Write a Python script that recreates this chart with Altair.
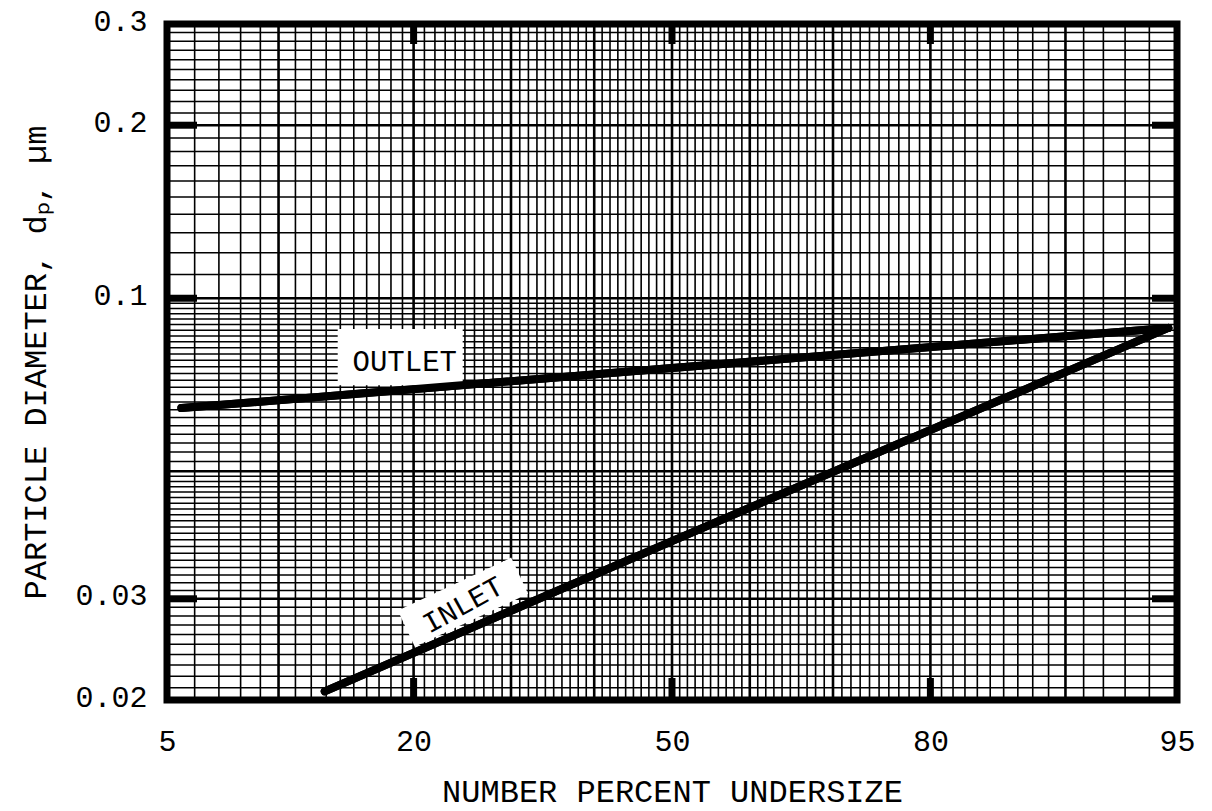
import altair as alt
import pandas as pd
from statistics import NormalDist

nd = NormalDist()

# ---- data ----
outlet_pct = [5.5, 50.0, 94.7]
outlet_dp = [0.0644, 0.0756, 0.0888]
inlet_pct = [12.9, 50.0, 94.7]
inlet_dp = [0.0207, 0.0378, 0.0888]

x_tick_pct = [5, 20, 50, 80, 95]
y_tick_dp = [0.02, 0.03, 0.1, 0.2, 0.3]
heavy_pct = [20, 50, 80]
heavy_dp = [0.03, 0.1, 0.2]

grid_pct_minor = [p for p in range(6, 95) if p % 10 != 0]
grid_pct_major = [10, 20, 30, 40, 50, 60, 70, 80, 90]
grid_dp_minor = (
    [round(0.020 + 0.001 * i, 3) for i in range(1, 30) if i != 10]
    + [round(0.050 + 0.002 * i, 3) for i in range(1, 25)]
    + [round(0.10 + 0.01 * i, 2) for i in range(1, 20) if i != 10]
)
grid_dp_major = [0.03, 0.05, 0.1, 0.2]

label_text = ["OUTLET", "INLET"]
label_pct = [19.2, 24.8]
label_dp = [0.0774, 0.02925]
box_pct = [18.8, 24.8]
box_dp = [0.0790, 0.0296]

FONT = "Liberation Mono"
Z = "quantileNormal(datum.pct / 100)"

xs = alt.Scale(domain=[nd.inv_cdf(0.05), nd.inv_cdf(0.95)], nice=False, zero=False)
ys = alt.Scale(type="log", domain=[0.02, 0.3], nice=False)

x_axis = alt.Axis(
    values=[nd.inv_cdf(p / 100) for p in x_tick_pct],
    labelExpr="format(cumulativeNormal(datum.value) * 100, '.0f')",
    title="NUMBER PERCENT UNDERSIZE",
    grid=False, domain=False, ticks=False, tickSize=0,
    labelFont=FONT, labelFontSize=30, labelColor="black", labelPadding=26,
    labelFlush=False, labelOverlap=False,
    titleFont=FONT, titleFontSize=32, titleFontWeight="normal", titleColor="black",
    titlePadding=20,
)
y_axis = alt.Axis(
    values=y_tick_dp, format="~g",
    title="PARTICLE DIAMETER, dₚ, µm",
    grid=False, domain=False, ticks=False, tickSize=0,
    labelFont=FONT, labelFontSize=30, labelColor="black", labelPadding=20,
    labelOverlap=False, labelOffset=-3,
    titleFont=FONT, titleFontSize=32, titleFontWeight="normal", titleColor="black",
    titlePadding=22,
)


def xenc():
    return alt.X("z:Q", scale=xs, axis=x_axis)


def yenc():
    return alt.Y("dp:Q", scale=ys, axis=y_axis)


def pct_chart(values):
    return alt.Chart(pd.DataFrame({"pct": values})).transform_calculate(z=Z)


def dp_chart(values):
    return alt.Chart(pd.DataFrame({"dp": values}))


vgrid_minor = pct_chart(grid_pct_minor).mark_rule(color="black", strokeWidth=1.6).encode(x=xenc())
vgrid_major = pct_chart(grid_pct_major).mark_rule(color="black", strokeWidth=2.6).encode(x=xenc())
hgrid_minor = dp_chart(grid_dp_minor).mark_rule(color="black", strokeWidth=1.5).encode(y=yenc())
hgrid_major = dp_chart(grid_dp_major).mark_rule(color="black", strokeWidth=2.6).encode(y=yenc())

tick_top = pct_chart(heavy_pct).mark_rule(color="black", strokeWidth=7).encode(
    x=xenc(), y=alt.value(0), y2=alt.value(20))
tick_bottom = pct_chart(heavy_pct).mark_rule(color="black", strokeWidth=7).encode(
    x=xenc(), y=alt.value(654), y2=alt.value(676))
tick_left = dp_chart(heavy_dp).mark_rule(color="black", strokeWidth=7).encode(
    y=yenc(), x=alt.value(0), x2=alt.value(30))
tick_right = dp_chart(heavy_dp).mark_rule(color="black", strokeWidth=7).encode(
    y=yenc(), x=alt.value(985), x2=alt.value(1010))

boxes_df = pd.DataFrame({"pct": box_pct, "dp": box_dp})
box_outlet = alt.Chart(boxes_df.iloc[[0]]).transform_calculate(z=Z).mark_point(
    shape="M-1,-0.45L1,-0.45L1,0.45L-1,0.45Z", filled=True, color="white",
    opacity=1, size=15625, strokeWidth=0,
).encode(x=xenc(), y=yenc())
box_inlet = alt.Chart(boxes_df.iloc[[1]]).transform_calculate(z=Z).mark_point(
    shape="M-1,-0.32L1,-0.32L1,0.32L-1,0.32Z", filled=True, color="white",
    opacity=1, size=15625, strokeWidth=0, angle=335,
).encode(x=xenc(), y=yenc())

lines_df = pd.DataFrame({
    "pct": outlet_pct + inlet_pct,
    "dp": outlet_dp + inlet_dp,
    "series": ["OUTLET"] * len(outlet_pct) + ["INLET"] * len(inlet_pct),
})
lines = alt.Chart(lines_df).transform_calculate(z=Z).mark_line(
    color="black", strokeWidth=8, strokeCap="round"
).encode(x=xenc(), y=yenc(), detail="series:N")

labels_df = pd.DataFrame({"pct": label_pct, "dp": label_dp, "label": label_text})
text_outlet = alt.Chart(labels_df.iloc[[0]]).transform_calculate(z=Z).mark_text(
    font=FONT, fontSize=29, color="black", align="center", baseline="middle"
).encode(x=xenc(), y=yenc(), text="label:N")
text_inlet = alt.Chart(labels_df.iloc[[1]]).transform_calculate(z=Z).mark_text(
    font=FONT, fontSize=29, color="black", align="center", baseline="middle", angle=331
).encode(x=xenc(), y=yenc(), text="label:N")

chart = alt.layer(
    lines,
    vgrid_minor, vgrid_major, hgrid_minor, hgrid_major,
    tick_top, tick_bottom, tick_left, tick_right,
    box_outlet, box_inlet, lines, text_outlet, text_inlet,
).properties(
    width=1010, height=676,
    autosize=alt.AutoSizeParams(type="none"),
    padding={"left": 167, "top": 24, "right": 35, "bottom": 111},
    background="white",
).configure_view(stroke="black", strokeWidth=7, fill="white")

chart.save("out.html", embed_options={"renderer": "svg", "actions": False})
